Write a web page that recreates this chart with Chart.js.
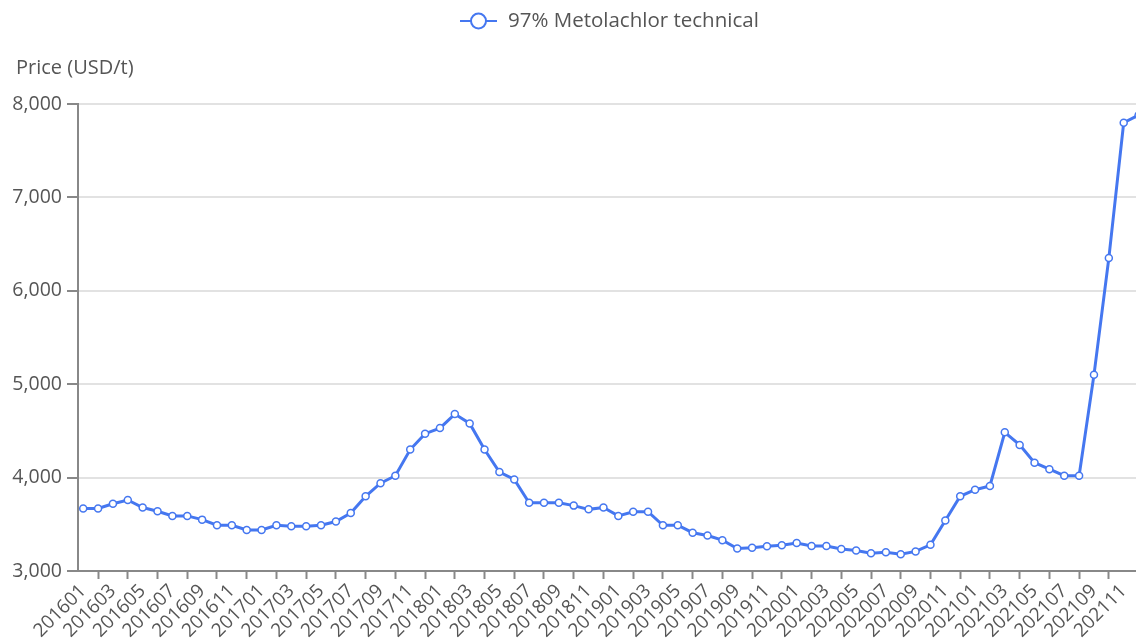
<!DOCTYPE html>
<html>
<head>
<meta charset="utf-8">
<script src="https://cdn.jsdelivr.net/npm/chart.js@4"></script>
<style>
  html, body { margin: 0; padding: 0; background: #fff; overflow: hidden; }
  #wrap { width: 1157px; height: 639px; position: relative; }
</style>
</head>
<body>
<div id="wrap"><canvas id="c"></canvas></div>
<script>
const categories = [
  '201601','201602','201603','201604','201605','201606','201607','201608','201609','201610','201611','201612',
  '201701','201702','201703','201704','201705','201706','201707','201708','201709','201710','201711','201712',
  '201801','201802','201803','201804','201805','201806','201807','201808','201809','201810','201811','201812',
  '201901','201902','201903','201904','201905','201906','201907','201908','201909','201910','201911','201912',
  '202001','202002','202003','202004','202005','202006','202007','202008','202009','202010','202011','202012',
  '202101','202102','202103','202104','202105','202106','202107','202108','202109','202110','202111','202112'
];
const seriesName = '97% Metolachlor technical';
const priceValues = [
  3670, 3670, 3720, 3760, 3680, 3640, 3590, 3590, 3550, 3490, 3490, 3440,
  3440, 3490, 3480, 3480, 3490, 3530, 3620, 3800, 3940, 4020, 4300, 4470,
  4530, 4680, 4580, 4300, 4060, 3980, 3730, 3730, 3730, 3700, 3660, 3680,
  3590, 3635, 3635, 3490, 3490, 3410, 3380, 3330, 3240, 3250, 3265, 3275,
  3300, 3268, 3268, 3235, 3220, 3190, 3200, 3180, 3210, 3280, 3540, 3800,
  3870, 3910, 4485, 4350, 4160, 4090, 4020, 4020, 5100, 6350, 7800, 7880
];
const yTicks = [3000, 4000, 5000, 6000, 7000, 8000];
const yAxisTitle = 'Price (USD/t)';

const lineColor = '#4577f0';
const FONT = '"Open Sans", "Noto Sans", sans-serif';

const extras = {
  id: 'extras',
  afterDraw(chart) {
    const ctx = chart.ctx;
    ctx.save();
    // y axis title
    ctx.fillStyle = '#555';
    ctx.font = '20px ' + FONT;
    ctx.textBaseline = 'middle';
    ctx.textAlign = 'left';
    ctx.fillText(yAxisTitle, 16, 68);
    // legend
    const ds = chart.data.datasets[0];
    ctx.strokeStyle = ds.borderColor;
    ctx.lineWidth = 2;
    ctx.beginPath();
    ctx.moveTo(460, 21); ctx.lineTo(497, 21);
    ctx.stroke();
    ctx.beginPath();
    ctx.arc(478.5, 21, 7.5, 0, Math.PI * 2);
    ctx.fillStyle = '#fff';
    ctx.fill();
    ctx.stroke();
    ctx.fillStyle = '#555';
    ctx.font = '20.5px ' + FONT;
    ctx.fillText(ds.label, 508, 21);
    ctx.restore();
  }
};

new Chart(document.getElementById('c'), {
  type: 'line',
  data: {
    datasets: [{
      label: seriesName,
      data: priceValues.map((v, i) => ({ x: i, y: v })),
      borderColor: lineColor,
      borderWidth: 3,
      pointRadius: 3.5,
      pointBackgroundColor: '#fff',
      pointBorderColor: lineColor,
      pointBorderWidth: 1.5,
      tension: 0,
      clip: false
    }]
  },
  options: {
    responsive: true,
    maintainAspectRatio: false,
    animation: false,
    layout: { padding: { top: 104, left: 0, right: 0, bottom: 0 } },
    plugins: { legend: { display: false }, tooltip: { enabled: false } },
    scales: {
      x: {
        type: 'linear',
        min: -0.35,
        max: 71.87,
        afterBuildTicks(scale) { scale.ticks = categories.map((_, i) => ({ value: i })); },
        afterFit(scale) { scale.height = 68; scale.paddingRight = 0; scale.paddingLeft = 0; },
        ticks: {
          autoSkip: false,
          minRotation: 45,
          maxRotation: 45,
          padding: 1,
          color: '#555',
          font: { family: FONT, size: 19 },
          callback: (v) => (v % 2 === 0 ? categories[v] : '')
        },
        grid: {
          drawOnChartArea: false,
          drawTicks: true,
          tickLength: 8,
          tickWidth: 2,
          tickColor: (c) => (c.index % 2 === 1 ? '#888' : 'rgba(0,0,0,0)')
        },
        border: { display: true, color: '#888', width: 2 }
      },
      y: {
        min: 3000,
        max: 8000,
        afterBuildTicks(scale) { scale.ticks = yTicks.map(v => ({ value: v })); },
        afterFit(scale) { scale.width = 78; },
        ticks: {
          color: '#555',
          padding: 5,
          font: { family: FONT, size: 19.5 },
          callback: (v) => v.toLocaleString('en-US')
        },
        grid: {
          color: '#e2e2e2',
          lineWidth: 2,
          tickLength: 11,
          tickColor: '#888',
          tickWidth: 2
        },
        border: { display: true, color: '#888', width: 2 }
      }
    }
  },
  plugins: [extras]
});
</script>
</body>
</html>
